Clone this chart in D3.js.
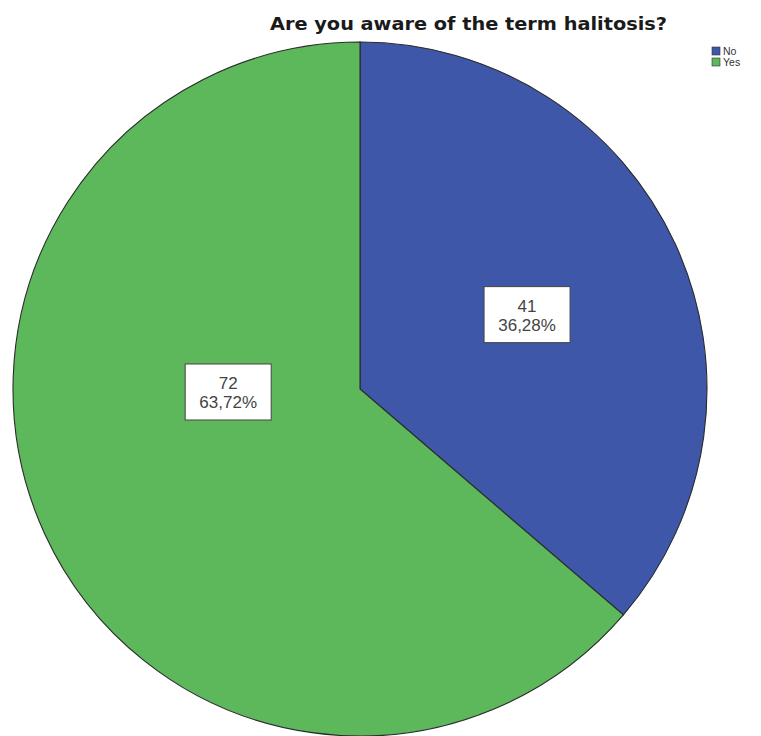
<!DOCTYPE html>
<html>
<head>
<meta charset="utf-8">
<script src="https://cdn.jsdelivr.net/npm/d3@7"></script>
<style>
  html, body { margin: 0; padding: 0; background: #ffffff; }
  svg { display: block; }
</style>
</head>
<body>
<svg id="chart" width="761" height="736"></svg>
<script>
// Survey responses: "Are you aware of the term halitosis?"
const title = "Are you aware of the term halitosis?";
const categories = ["No", "Yes"];
const counts = [41, 72];
const percentLabels = ["36,28%", "63,72%"];
const colors = ["#3f57a8", "#5cb85a"];

// Label anchor placement for each slice (angle in degrees clockwise from top, radius fraction)
const labelAnchors = [
  { angle: 66, radius: 0.527 },
  { angle: 268.7, radius: 0.38 }
];

const width = 761, height = 736;
const cx = 360, cy = 389, R = 347;

const svg = d3.select("#chart");

const pie = d3.pie().sort(null).value(d => d.count);
const data = categories.map((c, i) => ({ name: c, count: counts[i], pct: percentLabels[i], color: colors[i] }));
const arcs = pie(data);
const arc = d3.arc().innerRadius(0).outerRadius(R);

const g = svg.append("g").attr("transform", `translate(${cx},${cy})`);

g.selectAll("path.slice")
  .data(arcs)
  .join("path")
  .attr("class", "slice")
  .attr("d", arc)
  .attr("fill", d => d.data.color)
  .attr("stroke", "#2b2b2b")
  .attr("stroke-width", 1.1);

// Value labels in white boxes
const labels = g.selectAll("g.lbl")
  .data(arcs)
  .join("g")
  .attr("class", "lbl")
  .attr("transform", (d, i) => {
    const a = labelAnchors[i].angle * Math.PI / 180;
    const r = labelAnchors[i].radius * R;
    return `translate(${r * Math.sin(a)},${-r * Math.cos(a)})`;
  });

labels.each(function(d) {
  const sel = d3.select(this);
  const rect = sel.append("rect")
    .attr("fill", "#ffffff")
    .attr("stroke", "#444")
    .attr("stroke-width", 1);
  const t = sel.append("text")
    .attr("text-anchor", "middle")
    .attr("font-family", "Liberation Sans, Arial, sans-serif")
    .attr("font-size", 17)
    .attr("fill", "#444");
  t.append("tspan").attr("x", 0).attr("y", -3).text(d.data.count);
  t.append("tspan").attr("x", 0).attr("y", 16).text(d.data.pct);
  const bw = 86;
  rect.attr("x", -bw / 2).attr("y", -28).attr("width", bw).attr("height", 56);
});

// Title
svg.append("text")
  .attr("x", 468.5)
  .attr("y", 30)
  .attr("text-anchor", "middle")
  .attr("font-family", "DejaVu Sans, Verdana, sans-serif")
  .attr("font-weight", "bold")
  .attr("font-size", 17)
  .attr("textLength", 397)
  .attr("lengthAdjust", "spacingAndGlyphs")
  .attr("fill", "#1a1a1a")
  .text(title);

// Legend
const legend = svg.append("g").attr("transform", "translate(712,47)");
const items = legend.selectAll("g")
  .data(data)
  .join("g")
  .attr("transform", (d, i) => `translate(0,${i * 11})`);
items.append("rect")
  .attr("width", 8).attr("height", 8)
  .attr("fill", d => d.color)
  .attr("stroke", "#333").attr("stroke-width", 0.6);
items.append("text")
  .attr("x", 11).attr("y", 8)
  .attr("font-family", "Liberation Sans, Arial, sans-serif")
  .attr("font-size", 10.5)
  .attr("fill", "#333")
  .text(d => d.name);
</script>
</body>
</html>
